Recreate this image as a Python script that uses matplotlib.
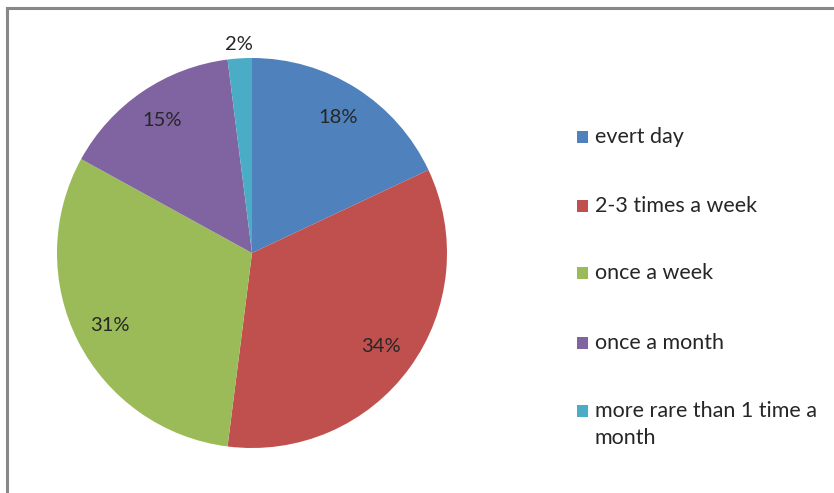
import matplotlib
matplotlib.use("Agg")
import matplotlib.pyplot as plt
from matplotlib.patches import Rectangle
from matplotlib.lines import Line2D
import numpy as np

categories = ["evert day", "2-3 times a week", "once a week", "once a month",
              "more rare than 1 time a\nmonth"]
shares = [18, 34, 31, 15, 2]
colors = ["#4F81BD", "#C0504D", "#9BBB59", "#8064A2", "#4BACC6"]

W, H = 834, 493
plt.rcParams["font.family"] = ["Lato", "DejaVu Sans"]
text_color = "#262626"

fig = plt.figure(figsize=(W / 100, H / 100), dpi=100)
ax = fig.add_axes([0, 0, 1, 1])

cx, cy, R = 252, H - 253, 195
wedges, texts, autotexts = ax.pie(
    shares, colors=colors, startangle=90, counterclock=False,
    center=(cx, cy), radius=R, autopct="%1.0f%%", pctdistance=0.82,
    textprops=dict(fontsize=14.5, color=text_color),
    wedgeprops=dict(linewidth=0), frame=True)
ax.set_xlim(0, W)
ax.set_ylim(0, H)
ax.set_aspect("equal")
ax.axis("off")

# small slice: put its label just outside the rim
for w, t in zip(wedges, autotexts):
    if (w.theta2 - w.theta1) < 10:
        mid = np.deg2rad((w.theta1 + w.theta2) / 2)
        t.set_position((cx + 1.07 * R * np.cos(mid), cy + 1.07 * R * np.sin(mid)))

# frame lines on top and left
ax.add_line(Line2D([7.5, 7.5], [0, H - 7.5], color="#888888", lw=2.2))
ax.add_line(Line2D([7.5, W], [H - 7.5, H - 7.5], color="#888888", lw=2.2))

# legend
legend_y = [137, 206, 273, 343, 411]
for name, col, ly in zip(categories, colors, legend_y):
    y = H - ly
    ax.add_patch(Rectangle((577, y - 6), 11, 12, color=col, lw=0))
    ax.text(595, y + 10, name, fontsize=15.5, color=text_color,
            va="top", ha="left", linespacing=1.45)

fig.savefig("out.png", dpi=100)
